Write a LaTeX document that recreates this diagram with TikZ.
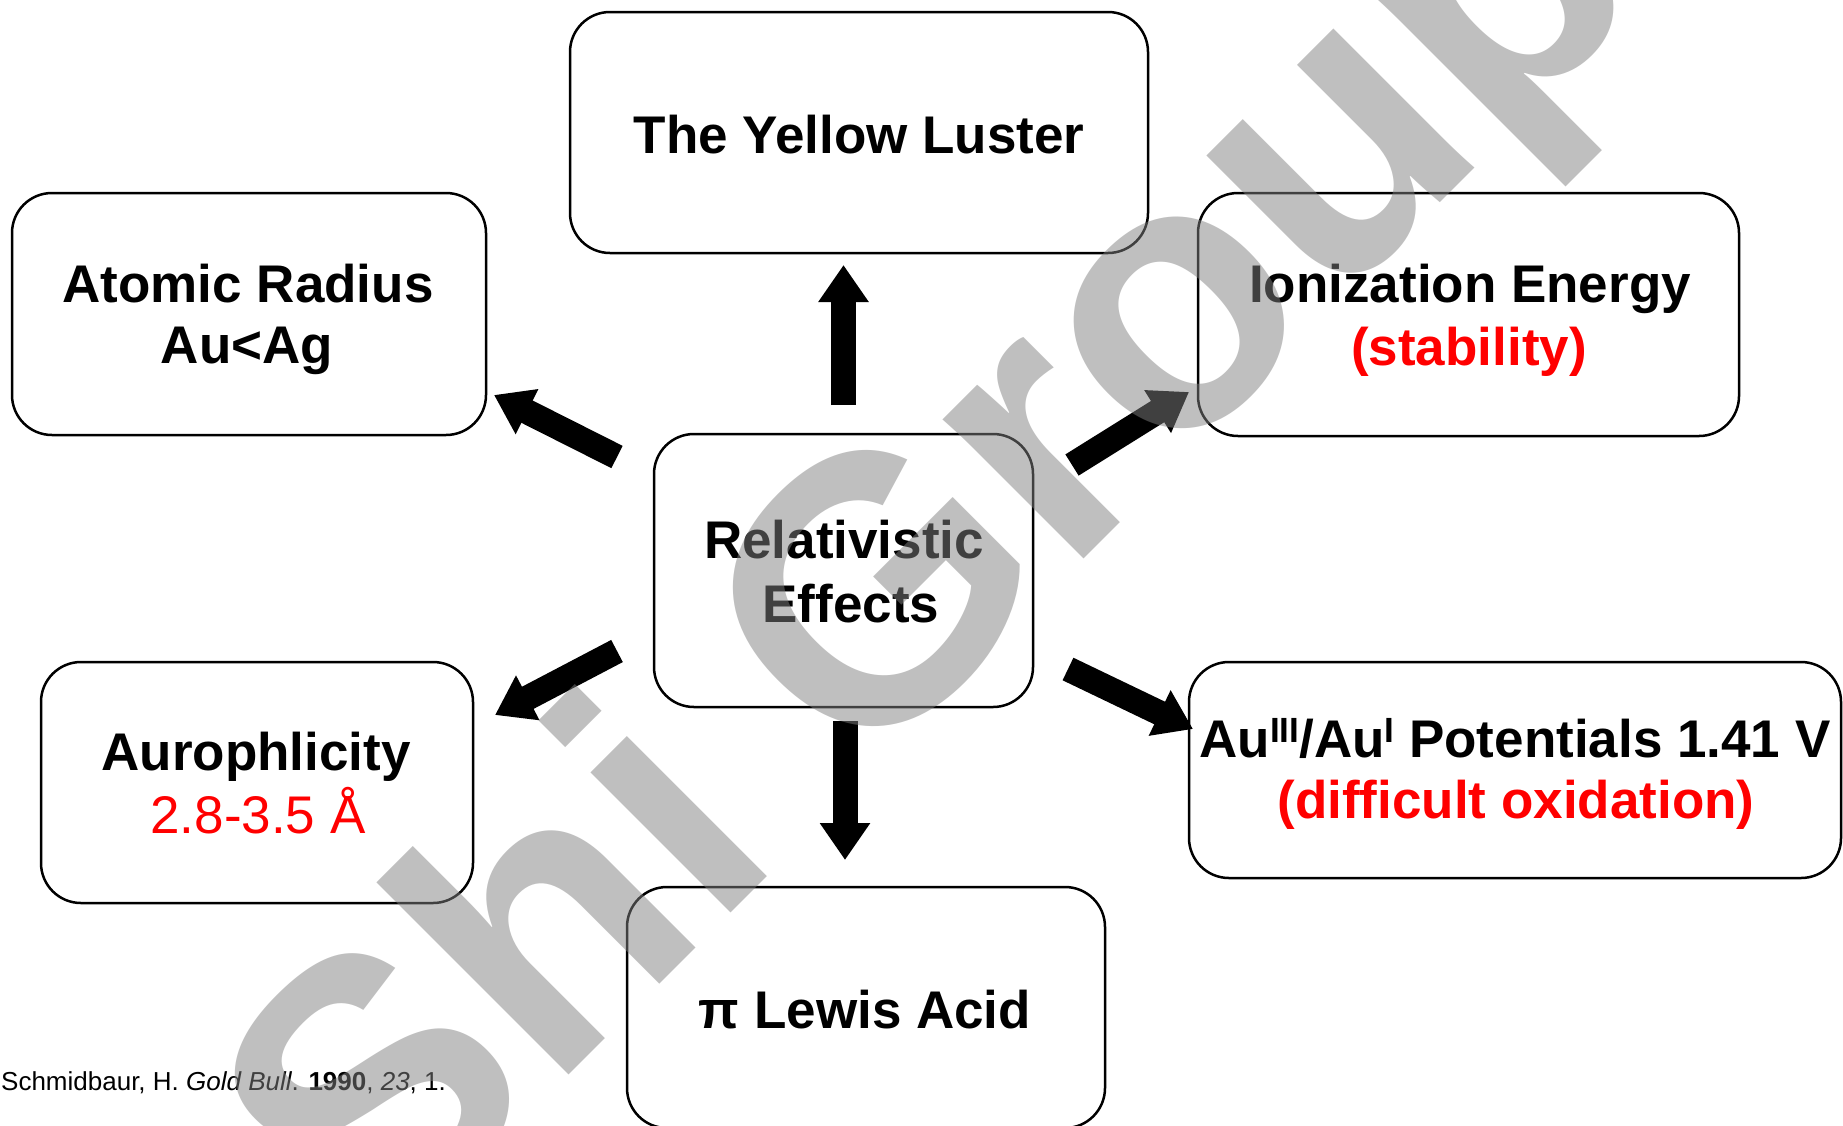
\documentclass[tikz,border=0pt]{standalone}
\usepackage{fontspec}
\setmainfont{Liberation Sans}
\usetikzlibrary{arrows.meta}
\definecolor{wmgray}{RGB}{128,128,128}
\newcommand{\supr}[1]{\raisebox{15pt}{\fontsize{35}{35}\selectfont #1}}
\tikzset{
  box/.style={draw=black, line width=2.5pt, rounded corners=40pt, inner sep=0pt, fill=none},
  bigarrow/.style={draw=black, line width=25pt, -{Triangle[width=48pt,length=37pt]}},
  lbl/.style={anchor=base, inner sep=0pt, font=\bfseries\fontsize{53}{64}\selectfont},
  lblr/.style={lbl, text=red},
  lblplain/.style={anchor=base, inner sep=0pt, font=\fontsize{53}{64}\selectfont, text=red},
}
\begin{document}
\begin{tikzpicture}[x=1pt,y=-1pt]
\useasboundingbox (0,0) rectangle (1843,1125);
\clip (0,0) rectangle (1843,1125);
\fill[white] (0,0) rectangle (1843,1125);

% boxes
\node[box, minimum width=578pt, minimum height=241pt] (yl) at (859,132.5) {};
\node[box, minimum width=474pt, minimum height=242pt] (ar) at (249,314) {};
\node[box, minimum width=541pt, minimum height=243pt] (ie) at (1468.5,314.5) {};
\node[box, minimum width=379pt, minimum height=273pt] (re) at (843.5,570.5) {};
\node[box, minimum width=432pt, minimum height=241pt] (au) at (257,782.5) {};
\node[box, minimum width=652pt, minimum height=216pt] (po) at (1515,770) {};
\node[box, minimum width=478pt, minimum height=241pt] (la) at (866,1007.5) {};

% texts
\node[lbl] (ylt) at (859,153) {The Yellow Luster};
\node[lbl] (art1) at (248,302) {Atomic Radius};
\node[lbl] (art2) at (247,363) {Au<Ag};
\node[lbl] (iet1) at (1470,302) {Ionization Energy};
\node[lblr] (iet2) at (1469,365) {(stability)};
\node[lbl] (ret1) at (844,558) {Relativistic};
\node[lbl] (ret2) at (851,622) {Effects};
\node[lbl] (aut1) at (256,770) {Aurophlicity};
\node[lblplain] (aut2) at (258,833) {2.8-3.5 Å};
\node[lbl] (pot1) at (1515,757) {Au\supr{III}/Au\supr{I} Potentials 1.41 V};
\node[lblr] (pot2) at (1516,818) {(difficult oxidation)};
\node[lbl] (lat) at (865,1028) {π Lewis Acid};
\node[anchor=base west, inner sep=0pt, font=\fontsize{26}{30}\selectfont] (cite) at (1,1090)
  {Schmidbaur, H. \textit{Gold Bull}. \textbf{1990}, \textit{23}, 1.};

% arrow end points
\coordinate (aUt) at (843.5,405);  \coordinate (aUh) at (843.5,265);
\coordinate (aDt) at (845,721);    \coordinate (aDh) at (845,860);
\coordinate (aULt) at (617,457);   \coordinate (aULh) at (494,395);
\coordinate (aDLt) at (617,651);   \coordinate (aDLh) at (495,715);
\coordinate (aURt) at (1072,465);  \coordinate (aURh) at (1189,392);
\coordinate (aDRt) at (1068,669);  \coordinate (aDRh) at (1193,729);

\draw[bigarrow] (aUt) -- (aUh);
\draw[bigarrow] (aDt) -- (aDh);
\draw[bigarrow] (aULt) -- (aULh);
\draw[bigarrow] (aDLt) -- (aDLh);
\draw[bigarrow] (aURt) -- (aURh);
\draw[bigarrow] (aDRt) -- (aDRh);

% watermark
\node[rotate=45, anchor=base west, inner sep=0pt, text=wmgray, opacity=0.5,
      font=\bfseries\fontsize{375}{375}\selectfont] (wm) at (373,1270) {Shi Group};
\end{tikzpicture}
\end{document}
